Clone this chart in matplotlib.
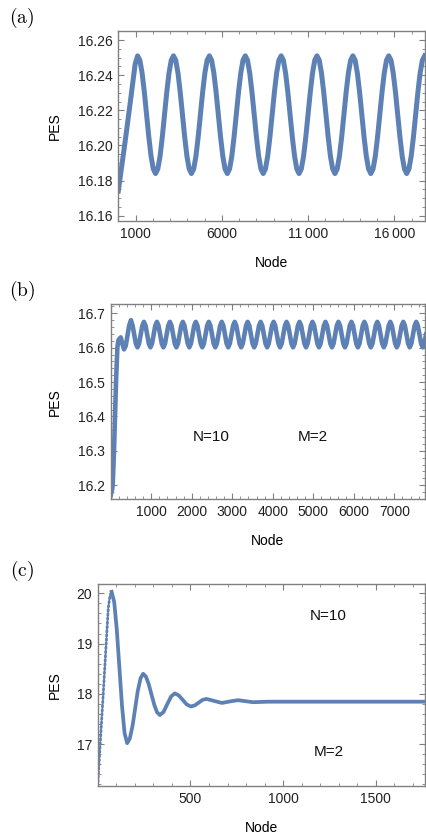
import matplotlib
matplotlib.use("Agg")
import matplotlib.pyplot as plt
from matplotlib.ticker import FixedLocator, MultipleLocator, FixedFormatter, FormatStrFormatter

plt.rcParams['font.family'] = ['Liberation Sans', 'DejaVu Sans']
plt.rcParams['mathtext.fontset'] = 'cm'

BLUE = '#5e81b5'
FRAME = '#808080'

# panel (a): PES vs node, long run
node_a = [0, 140, 280, 420, 560, 700, 840, 980, 1120,
          1250, 1380, 1510, 1640, 1770, 1900, 2030, 2160, 2290, 2420, 2550, 2680, 2810, 2940, 3070, 3200,
          3330, 3460, 3590, 3720, 3850, 3980, 4110, 4240, 4370, 4500, 4630, 4760, 4890, 5020, 5150, 5280,
          5410, 5540, 5670, 5800, 5930, 6060, 6190, 6320, 6450, 6580, 6710, 6840, 6970, 7100, 7230, 7360,
          7490, 7620, 7750, 7880, 8010, 8140, 8270, 8400, 8530, 8660, 8790, 8920, 9050, 9180, 9310, 9440,
          9570, 9700, 9830, 9960, 10090, 10220, 10350, 10480, 10610, 10740, 10870, 11000, 11130, 11260, 11390, 11520,
          11650, 11780, 11910, 12040, 12170, 12300, 12430, 12560, 12690, 12820, 12950, 13080, 13210, 13340, 13470, 13600,
          13730, 13860, 13990, 14120, 14250, 14380, 14510, 14640, 14770, 14900, 15030, 15160, 15290, 15420, 15550, 15680,
          15810, 15940, 16070, 16200, 16330, 16460, 16590, 16720, 16850, 16980, 17110, 17240, 17370, 17500, 17630, 17760]
pes_a = [16.174, 16.184, 16.194, 16.204, 16.2145, 16.225, 16.236, 16.2465, 16.251,
         16.2485, 16.2412, 16.2303, 16.2175, 16.2047, 16.1938, 16.1866, 16.184,
         16.1866, 16.1938, 16.2047, 16.2175, 16.2303, 16.2412, 16.2485, 16.251,
         16.2485, 16.2412, 16.2303, 16.2175, 16.2047, 16.1938, 16.1866, 16.184,
         16.1866, 16.1938, 16.2047, 16.2175, 16.2303, 16.2412, 16.2485, 16.251,
         16.2485, 16.2412, 16.2303, 16.2175, 16.2047, 16.1938, 16.1866, 16.184,
         16.1866, 16.1938, 16.2047, 16.2175, 16.2303, 16.2412, 16.2485, 16.251,
         16.2485, 16.2412, 16.2303, 16.2175, 16.2047, 16.1938, 16.1866, 16.184,
         16.1866, 16.1938, 16.2047, 16.2175, 16.2303, 16.2412, 16.2485, 16.251,
         16.2485, 16.2412, 16.2303, 16.2175, 16.2047, 16.1938, 16.1866, 16.184,
         16.1866, 16.1938, 16.2047, 16.2175, 16.2303, 16.2412, 16.2485, 16.251,
         16.2485, 16.2412, 16.2303, 16.2175, 16.2047, 16.1938, 16.1866, 16.184,
         16.1866, 16.1938, 16.2047, 16.2175, 16.2303, 16.2412, 16.2485, 16.251,
         16.2485, 16.2412, 16.2303, 16.2175, 16.2047, 16.1938, 16.1866, 16.184,
         16.1866, 16.1938, 16.2047, 16.2175, 16.2303, 16.2412, 16.2485, 16.251,
         16.2485, 16.2412, 16.2303, 16.2175, 16.2047, 16.1938, 16.1866, 16.184,
         16.1866, 16.1938, 16.2047, 16.2175, 16.2303, 16.2412, 16.2485, 16.251]

# panel (b): N=10, M=2
node_b = [0, 30, 49, 81, 106, 131, 164, 190, 247, 290, 328, 370, 414, 457,
          500, 540, 580, 620, 660, 700, 740, 780,
          820, 860, 900, 940, 980, 1020, 1060, 1100,
          1140, 1180, 1220, 1260, 1300, 1340, 1380, 1420,
          1460, 1500, 1540, 1580, 1620, 1660, 1700, 1740,
          1780, 1820, 1860, 1900, 1940, 1980, 2020, 2060,
          2100, 2140, 2180, 2220, 2260, 2300, 2340, 2380,
          2420, 2460, 2500, 2540, 2580, 2620, 2660, 2700,
          2740, 2780, 2820, 2860, 2900, 2940, 2980, 3020,
          3060, 3100, 3140, 3180, 3220, 3260, 3300, 3340,
          3380, 3420, 3460, 3500, 3540, 3580, 3620, 3660,
          3700, 3740, 3780, 3820, 3860, 3900, 3940, 3980,
          4020, 4060, 4100, 4140, 4180, 4220, 4260, 4300,
          4340, 4380, 4420, 4460, 4500, 4540, 4580, 4620,
          4660, 4700, 4740, 4780, 4820, 4860, 4900, 4940,
          4980, 5020, 5060, 5100, 5140, 5180, 5220, 5260,
          5300, 5340, 5380, 5420, 5460, 5500, 5540, 5580,
          5620, 5660, 5700, 5740, 5780, 5820, 5860, 5900,
          5940, 5980, 6020, 6060, 6100, 6140, 6180, 6220,
          6260, 6300, 6340, 6380, 6420, 6460, 6500, 6540,
          6580, 6620, 6660, 6700, 6740, 6780, 6820, 6860,
          6900, 6940, 6980, 7020, 7060, 7100, 7140, 7180,
          7220, 7260, 7300, 7340, 7380, 7420, 7460, 7500,
          7540, 7580, 7620, 7660, 7700, 7740, 7780]
pes_b = [16.17, 16.185, 16.2, 16.3, 16.4, 16.5, 16.6, 16.622, 16.63, 16.61, 16.595, 16.605, 16.635, 16.665,
         16.68, 16.664, 16.638, 16.612, 16.601, 16.612, 16.638, 16.664,
         16.675, 16.664, 16.638, 16.612, 16.601, 16.612, 16.638, 16.664,
         16.675, 16.664, 16.638, 16.612, 16.601, 16.612, 16.638, 16.664,
         16.675, 16.664, 16.638, 16.612, 16.601, 16.612, 16.638, 16.664,
         16.675, 16.664, 16.638, 16.612, 16.601, 16.612, 16.638, 16.664,
         16.675, 16.664, 16.638, 16.612, 16.601, 16.612, 16.638, 16.664,
         16.675, 16.664, 16.638, 16.612, 16.601, 16.612, 16.638, 16.664,
         16.675, 16.664, 16.638, 16.612, 16.601, 16.612, 16.638, 16.664,
         16.675, 16.664, 16.638, 16.612, 16.601, 16.612, 16.638, 16.664,
         16.675, 16.664, 16.638, 16.612, 16.601, 16.612, 16.638, 16.664,
         16.675, 16.664, 16.638, 16.612, 16.601, 16.612, 16.638, 16.664,
         16.675, 16.664, 16.638, 16.612, 16.601, 16.612, 16.638, 16.664,
         16.675, 16.664, 16.638, 16.612, 16.601, 16.612, 16.638, 16.664,
         16.675, 16.664, 16.638, 16.612, 16.601, 16.612, 16.638, 16.664,
         16.675, 16.664, 16.638, 16.612, 16.601, 16.612, 16.638, 16.664,
         16.675, 16.664, 16.638, 16.612, 16.601, 16.612, 16.638, 16.664,
         16.675, 16.664, 16.638, 16.612, 16.601, 16.612, 16.638, 16.664,
         16.675, 16.664, 16.638, 16.612, 16.601, 16.612, 16.638, 16.664,
         16.675, 16.664, 16.638, 16.612, 16.601, 16.612, 16.638, 16.664,
         16.675, 16.664, 16.638, 16.612, 16.601, 16.612, 16.638, 16.664,
         16.675, 16.664, 16.638, 16.612, 16.601, 16.612, 16.638, 16.664,
         16.675, 16.664, 16.638, 16.612, 16.601, 16.612, 16.638, 16.664,
         16.675, 16.664, 16.638, 16.612, 16.601, 16.612, 16.638]

# panel (c): damped oscillation, N=10, M=2
node_c_rise = [0, 15, 30, 45, 57, 66, 75]
pes_c_rise = [16.17, 17.1, 18.0, 18.95, 19.7, 19.95, 20.03]
node_c = [75, 89, 103, 117, 131, 145, 159,
          173, 188, 202, 216, 231, 245,
          260, 275, 290, 305, 320, 335,
          355, 375, 396, 416, 437, 459, 480, 502,
          523, 544, 565, 586, 628, 670, 713, 756, 797, 837, 920, 1200, 1765]
pes_c = [20.03, 19.83, 19.28, 18.525, 17.77, 17.22, 17.02,
         17.11, 17.365, 17.71, 18.055, 18.31, 18.40,
         18.345, 18.195, 17.99, 17.785, 17.635, 17.58,
         17.64, 17.795, 17.95, 18.01, 17.97, 17.88, 17.79, 17.75,
         17.77, 17.825, 17.88, 17.90, 17.86, 17.82, 17.85, 17.875, 17.855, 17.835, 17.845, 17.845, 17.845]


def style_axes(ax, xmajor, xminor, ymajor, yminor, xlabels, yfmt, xlim, ylim):
    ax.set_xlim(*xlim)
    ax.set_ylim(*ylim)
    ax.xaxis.set_major_locator(FixedLocator(xmajor))
    ax.xaxis.set_major_formatter(FixedFormatter(xlabels))
    ax.xaxis.set_minor_locator(MultipleLocator(xminor))
    ax.yaxis.set_major_locator(FixedLocator(ymajor))
    ax.yaxis.set_major_formatter(FormatStrFormatter(yfmt))
    ax.yaxis.set_minor_locator(MultipleLocator(yminor))
    ax.tick_params(which='both', direction='in', top=True, right=True,
                   color=FRAME, labelsize=10, labelcolor='#222222', pad=4)
    ax.tick_params(which='major', length=4, width=0.8)
    ax.tick_params(which='minor', length=2.2, width=0.6)
    for s in ax.spines.values():
        s.set_color(FRAME)
        s.set_linewidth(1.0)
    ax.set_xlabel("Node", fontsize=10, labelpad=11)
    ax.set_ylabel("PES", fontsize=10)
    # PES labels sit at the same figure x in all panels
    pos = ax.get_position()
    ax.yaxis.set_label_coords((62 / 426 - pos.x0) / pos.width, 0.5)


fig = plt.figure(figsize=(4.26, 8.34), dpi=100)
ax_a = fig.add_axes([0.2777, 0.7350, 0.7200, 0.2282])
ax_b = fig.add_axes([0.2599, 0.4013, 0.7378, 0.2338])
ax_c = fig.add_axes([0.2293, 0.0576, 0.7684, 0.2422])

ax_a.plot(node_a, pes_a, color=BLUE, lw=3.6, solid_joinstyle='round')
style_axes(ax_a, [1000, 6000, 11000, 16000], 1000,
           [16.16, 16.18, 16.20, 16.22, 16.24, 16.26], 0.005,
           ["1000", "6000", "11\u2009000", "16\u2009000"], '%.2f',
           (0, 17783), (16.157, 16.2653))

ax_b.plot(node_b, pes_b, color=BLUE, lw=3.3, solid_joinstyle='round')
style_axes(ax_b, [1000, 2000, 3000, 4000, 5000, 6000, 7000], 200,
           [16.2, 16.3, 16.4, 16.5, 16.6, 16.7], 0.02,
           ["1000", "2000", "3000", "4000", "5000", "6000", "7000"], '%.1f',
           (0, 7757), (16.159, 16.726))
ax_b.text(2480, 16.34, "N=10", fontsize=11, ha='center', va='center', color='#111111')
ax_b.text(5000, 16.34, "M=2", fontsize=11, ha='center', va='center', color='#111111')

ax_c.plot(node_c_rise, pes_c_rise, color=BLUE, lw=2.0, linestyle=(0, (0.6, 0.9)),
          dash_capstyle='round')
ax_c.plot(node_c, pes_c, color=BLUE, lw=2.7, solid_joinstyle='round')
style_axes(ax_c, [500, 1000, 1500], 100,
           [17, 18, 19, 20], 0.2,
           ["500", "1000", "1500"], '%d',
           (0, 1765), (16.17, 20.185))
ax_c.text(1245, 19.55, "N=10", fontsize=11, ha='center', va='center', color='#111111')
ax_c.text(1245, 16.84, "M=2", fontsize=11, ha='center', va='center', color='#111111')

for label, y in [("(a)", 18), ("(b)", 291), ("(c)", 571)]:
    fig.text(22 / 426, 1 - y / 834, r'$\mathrm{' + label + '}$', fontsize=14,
             ha='center', va='center')

fig.savefig("out.png", dpi=100)
